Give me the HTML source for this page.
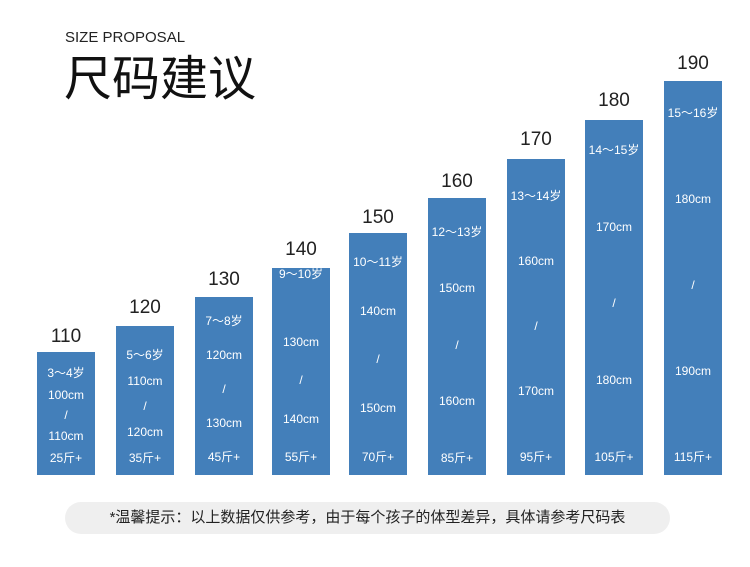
<!DOCTYPE html><html><head><meta charset="utf-8"><style>
body{margin:0;width:750px;height:567px;background:#fff;position:relative;overflow:hidden;font-family:"Liberation Sans","Noto Sans CJK SC",sans-serif}
.a{position:absolute}
.bar{position:absolute;width:58px;background:#437fba;bottom:92px}
.t{position:absolute;width:58px;text-align:center;color:#fff;font-size:12px;line-height:14px;transform:translateY(-7px);white-space:nowrap}
.n{position:absolute;width:78px;text-align:center;color:#222;font-size:19px;line-height:20px;transform:translateY(-10px)}
</style></head><body>
<div class="a" style="left:65px;top:29px;font-size:15px;color:#222">SIZE PROPOSAL</div>
<div class="a" style="left:64px;top:51px;font-size:48px;line-height:58px;color:#111">尺码建议</div>
<div id="c"></div>
<div class="a" style="left:65px;top:502px;width:605px;height:32px;border-radius:16px;background:#efefef;text-align:center;line-height:32px;font-size:15px;color:#222">*温馨提示：以上数据仅供参考，由于每个孩子的体型差异，具体请参考尺码表</div>
<script>
var d=[[37,352,337,"3 ~ 4岁","100cm","110cm","25斤+",[373,395,415,436,458]],
[116,326,308,"5 ~ 6岁","110cm","120cm","35斤+",[355,381,406,432,458]],
[195,297,280,"7 ~ 8岁","120cm","130cm","45斤+",[321,355,389,423,457]],
[272,268,250,"9 ~ 10岁","130cm","140cm","55斤+",[274,342,380,419,457]],
[349,233,218,"10 ~ 11岁","140cm","150cm","70斤+",[262,311,359,408,457]],
[428,198,182,"12 ~ 13岁","150cm","160cm","85斤+",[232,288,345,401,458]],
[507,159,140,"13 ~ 14岁","160cm","170cm","95斤+",[196,261,326,391,457]],
[585,120,101,"14 ~ 15岁","170cm","180cm","105斤+",[150,227,303,380,457]],
[664,81,64,"15 ~ 16岁","180cm","190cm","115斤+",[113,199,285,371,457]]];
var h="",L=["110","120","130","140","150","160","170","180","190"];
d.forEach(function(b,i){h+='<div class="bar" style="left:'+b[0]+'px;top:'+b[1]+'px"></div>';
h+='<div class="n" style="left:'+(b[0]-10)+'px;top:'+b[2]+'px">'+L[i]+'</div>';
var tx=[b[3].replace(" ~ ","～"),b[4],"/",b[5],b[6]];
tx.forEach(function(s,j){h+='<div class="t" style="left:'+b[0]+'px;top:'+b[7][j]+'px">'+s+'</div>'})});
document.getElementById("c").innerHTML=h;
</script>
</body></html>
